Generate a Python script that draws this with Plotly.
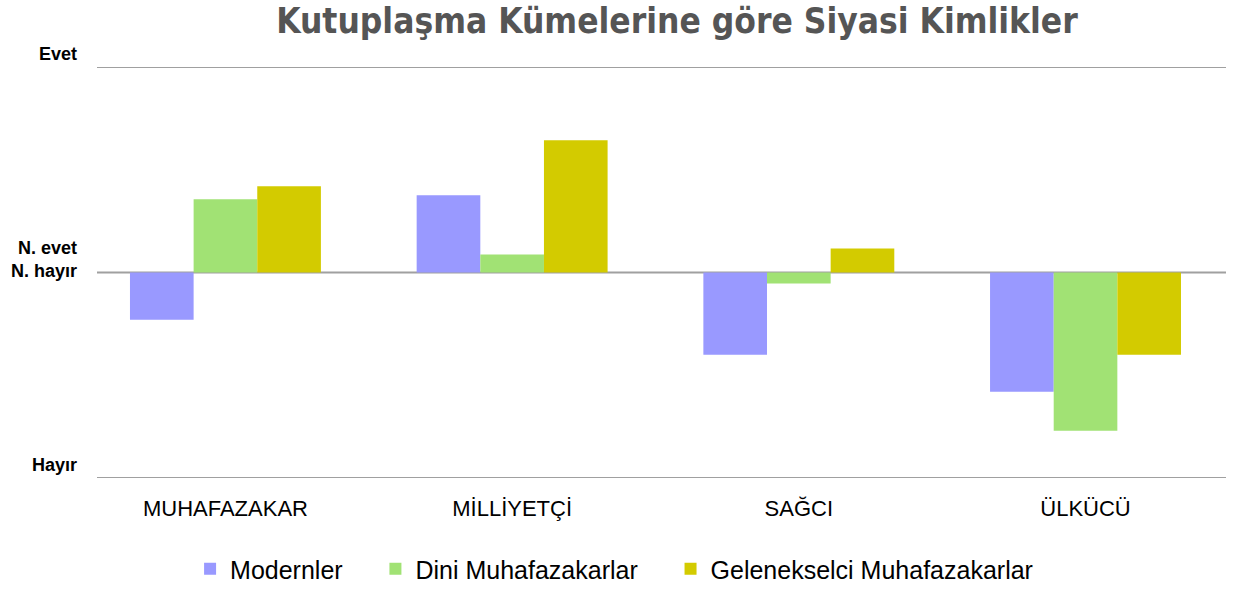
import plotly.graph_objects as go

categories = ["MUHAFAZAKAR", "MİLLİYETÇİ", "SAĞCI", "ÜLKÜCÜ"]
modernler = [-0.23, 0.376, -0.40, -0.58]
dini_muhafazakarlar = [0.356, 0.088, -0.054, -0.77]
geleneksel = [0.42, 0.644, 0.117, -0.40]
y_tick_vals = [1, 0, -1]
y_tick_text = ["Evet", "N. evet<br>N. hayır", "Hayır"]

series = [
    ("Modernler", modernler, "#9999FF"),
    ("Dini Muhafazakarlar", dini_muhafazakarlar, "#A1E274"),
    ("Gelenekselci Muhafazakarlar", geleneksel, "#D3CB00"),
]
pad = "\u00a0" * 4

W, H = 1233, 592
T, B = 20, 0
ph = H - T - B
top_px, bot_px = 67, 478
dom = [(H - B - bot_px) / ph, (H - B - top_px) / ph]

fig = go.Figure()
for i, (name, vals, color) in enumerate(series):
    fig.add_trace(go.Bar(x=list(range(len(categories))), y=vals,
                         name=name + (pad if i < len(series) - 1 else ""),
                         marker=dict(color=color, line=dict(width=0))))

for v in y_tick_vals:
    fig.add_shape(type="line", xref="paper", yref="y", x0=0, x1=1, y0=v, y1=v,
                  line=dict(color="#A0A0A0", width=2), layer="below")

for v, t in zip(y_tick_vals, y_tick_text):
    fig.add_annotation(xref="paper", yref="y", x=-0.0159, y=v, text=t,
                       showarrow=False, xanchor="right", yanchor="middle",
                       yshift=13, align="right",
                       font=dict(family="Liberation Sans, Arial", size=18, color="#000", weight="bold"))

fig.update_layout(
    width=W, height=H,
    margin=dict(l=97, r=7, t=T, b=B),
    paper_bgcolor="white", plot_bgcolor="white",
    barmode="group", bargap=0.334, bargroupgap=0,
    title=dict(text="Kutuplaşma Kümelerine göre Siyasi Kimlikler", x=0.549, xanchor="center",
               y=(H - 21) / H, yanchor="middle",
               font=dict(family="DejaVu Sans Condensed, Liberation Sans", size=35, color="#555555", weight="bold")),
    xaxis=dict(tickvals=list(range(len(categories))), ticktext=categories,
               range=[-0.448, 3.49], showgrid=False, zeroline=False, showline=False,
               ticks="outside", ticklen=11, tickcolor="rgba(0,0,0,0)",
               tickfont=dict(family="Liberation Sans, Arial", size=22, color="#000")),
    yaxis=dict(range=[-1, 1], domain=dom, showticklabels=False,
               showgrid=False, zeroline=False, showline=False),
    legend=dict(orientation="h", x=0.458, xanchor="center", y=0, yanchor="bottom",
                font=dict(family="Liberation Sans, Arial", size=25, color="#000"),
                itemsizing="constant", traceorder="normal"),
)

fig.write_html("out.html", config={"displayModeBar": False},
               post_script="document.body.style.margin='0px';")
